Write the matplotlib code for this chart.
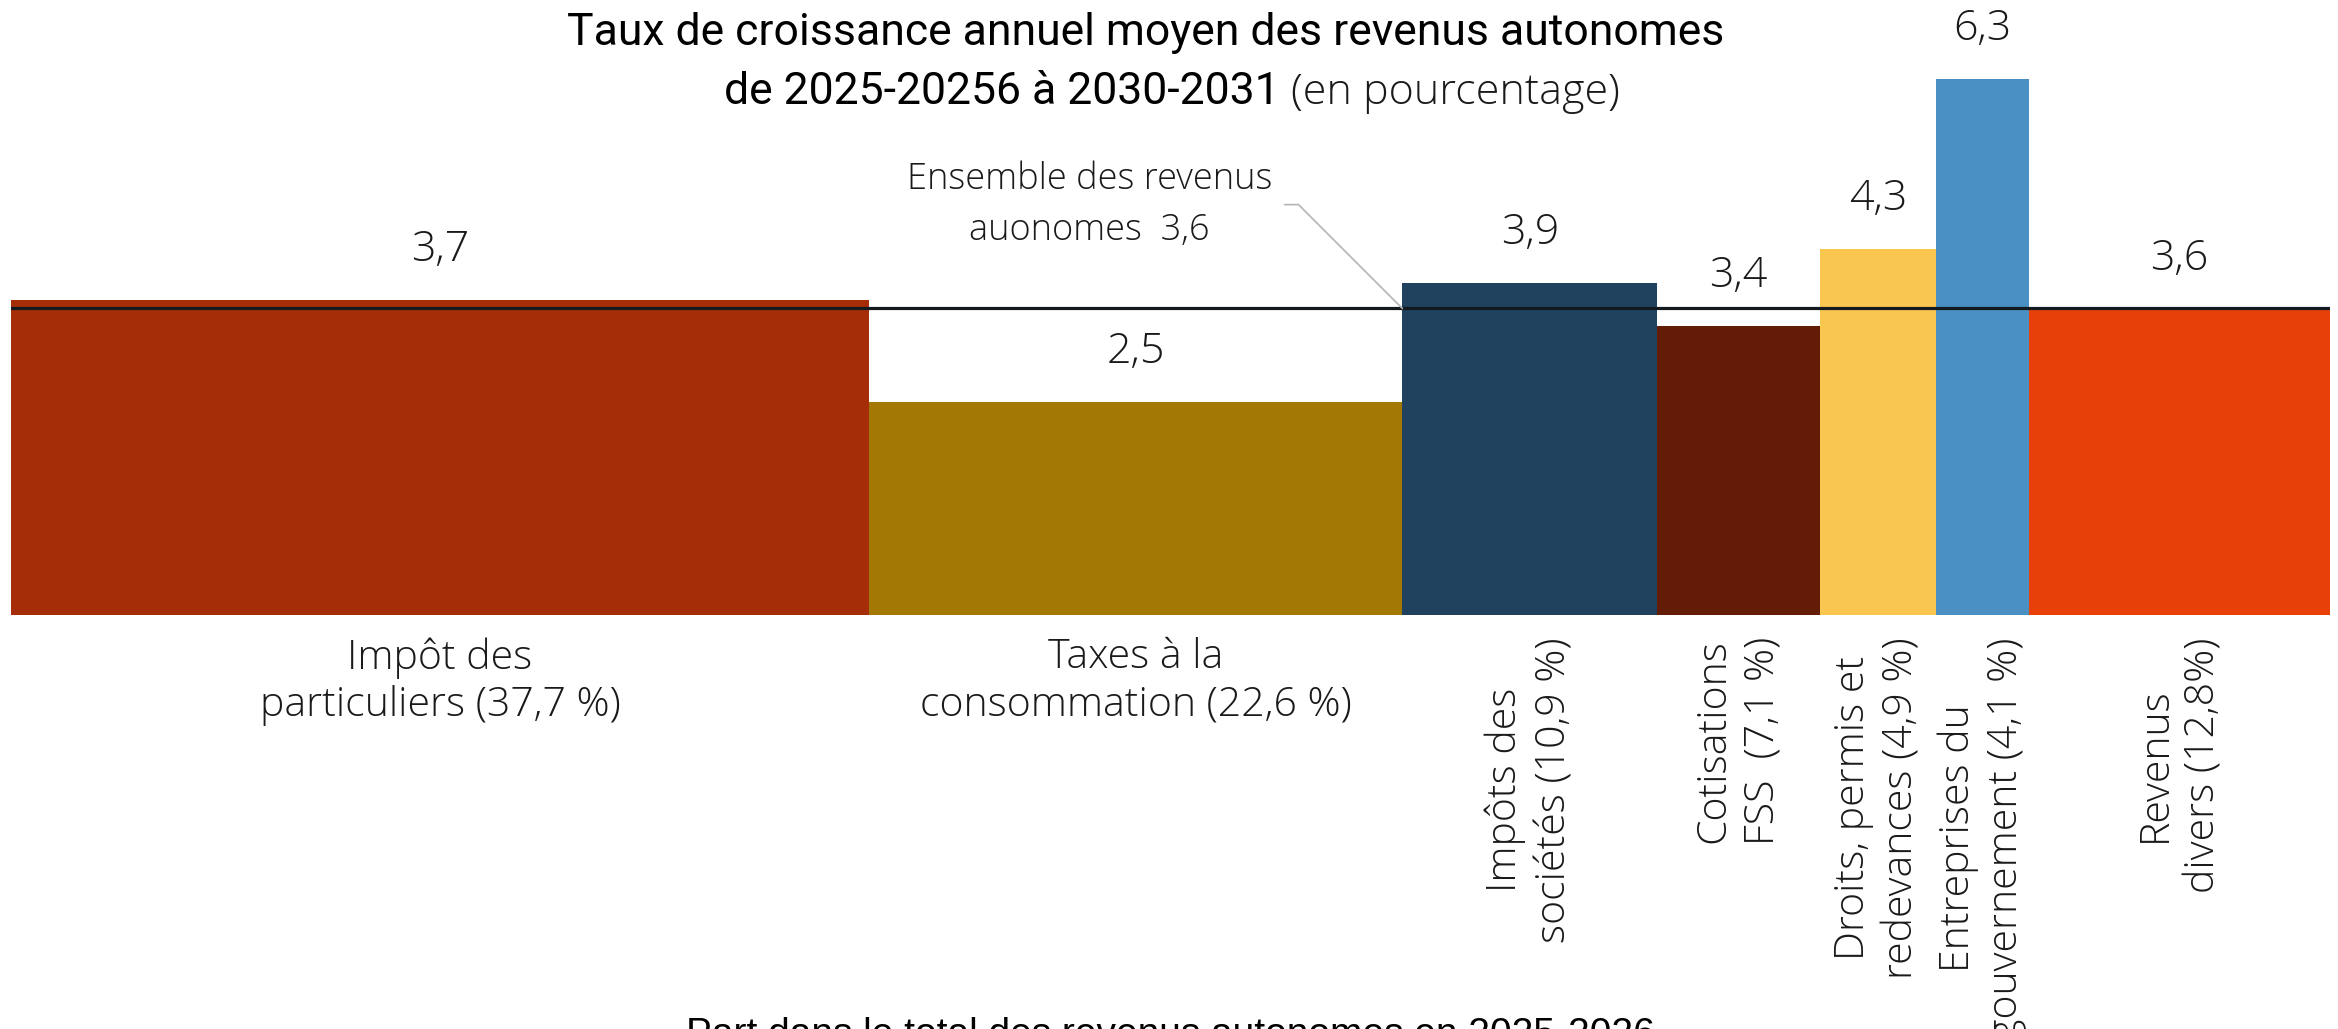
import numpy as np
import matplotlib
matplotlib.use('Agg')
import matplotlib.pyplot as plt

# données
categories = ["Impôt des\nparticuliers (37,7 %)",
              "Taxes à la\nconsommation (22,6 %)",
              "Impôts des\nsociétés (10,9 %)",
              "Cotisations\nFSS  (7,1 %)",
              "Droits, permis et\nredevances (4,9 %)",
              "Entreprises du\ngouvernement (4,1 %)",
              "Revenus\ndivers (12,8%)"]
widths = [37, 23, 11, 7, 5, 4, 13]                 # largeur des barres (part, arrondie)
growth = [3.7, 2.5, 3.9, 3.4, 4.3, 6.3, 3.6]       # taux de croissance (hauteur)
average = 3.6
vertical = [False, False, True, True, True, True, True]
colors = ["#A52D08", "#A37805", "#20425E", "#631C05", "#F9C74F", "#4A90C2", "#E74008"]

label_font = ["Open Sans", "DejaVu Sans"]
title_font = ["Roboto", "DejaVu Sans"]
txt_color = '#1a1a1a'

fig = plt.figure(figsize=(23.38, 10.29), dpi=100)
W, H = 2338, 1029
ax = fig.add_axes([11 / W, (H - 615) / H, 2319 / W, 596 / H])

lefts = np.concatenate([[0], np.cumsum(widths)[:-1]])
ax.bar(lefts, growth, width=widths, align='edge', color=colors, linewidth=0)
ax.axhline(average, color='#121a1f', lw=2.3, zorder=3)

ax.set_xlim(0, sum(widths))
ax.set_ylim(0, 7.0)
ax.axis('off')

for x0, w, v, lab, rot in zip(lefts, widths, growth, categories, vertical):
    xc = x0 + w / 2
    ax.annotate(f"{v:.1f}".replace('.', ','), (xc, v), xytext=(0, 36),
                textcoords='offset points', ha='center', va='center',
                fontsize=31, family=label_font, fontweight='light', color=txt_color)
    ax.annotate(lab, (xc, 0), xytext=(0, -16), textcoords='offset points',
                ha='center', va='top', multialignment='center',
                rotation=90 if rot else 0, linespacing=1.25 if rot else 1.2,
                fontsize=29.5, family=label_font, fontweight='light',
                color=txt_color, annotation_clip=False)

# moyenne de l'ensemble des revenus
ax.annotate("Ensemble des revenus\nauonomes  3,6", xy=(lefts[2], average),
            xytext=(46.5, 4.82), ha='center', va='center', linespacing=1.5,
            fontsize=26, family=label_font, fontweight='light', color=txt_color,
            arrowprops=dict(arrowstyle='-', color='#b5b5b5', lw=1.2,
                            relpos=(1, 0.5), shrinkA=7, shrinkB=0,
                            connectionstyle="angle,angleA=0,angleB=-45,rad=0"))

fig.text(1146 / W, 1 - 45 / H, "Taux de croissance annuel moyen des revenus autonomes",
         ha='center', va='baseline', fontsize=32, family=title_font, color='black')
fig.text(1280 / W, 1 - 104 / H, "de 2025-20256 à 2030-2031",
         ha='right', va='baseline', fontsize=32, family=title_font, color='black')
fig.text(1291 / W, 1 - 104 / H, "(en pourcentage)",
         ha='left', va='baseline', fontsize=31, family=label_font, fontweight='light',
         color=txt_color)

fig.text(1170 / W, 1 - 1017 / H, "Part dans le total des revenus autonomes en 2025-2026",
         ha='center', va='top', fontsize=28, family=["Liberation Sans", "DejaVu Sans"],
         color='black')

fig.savefig("out.png", dpi=100, facecolor='white')
